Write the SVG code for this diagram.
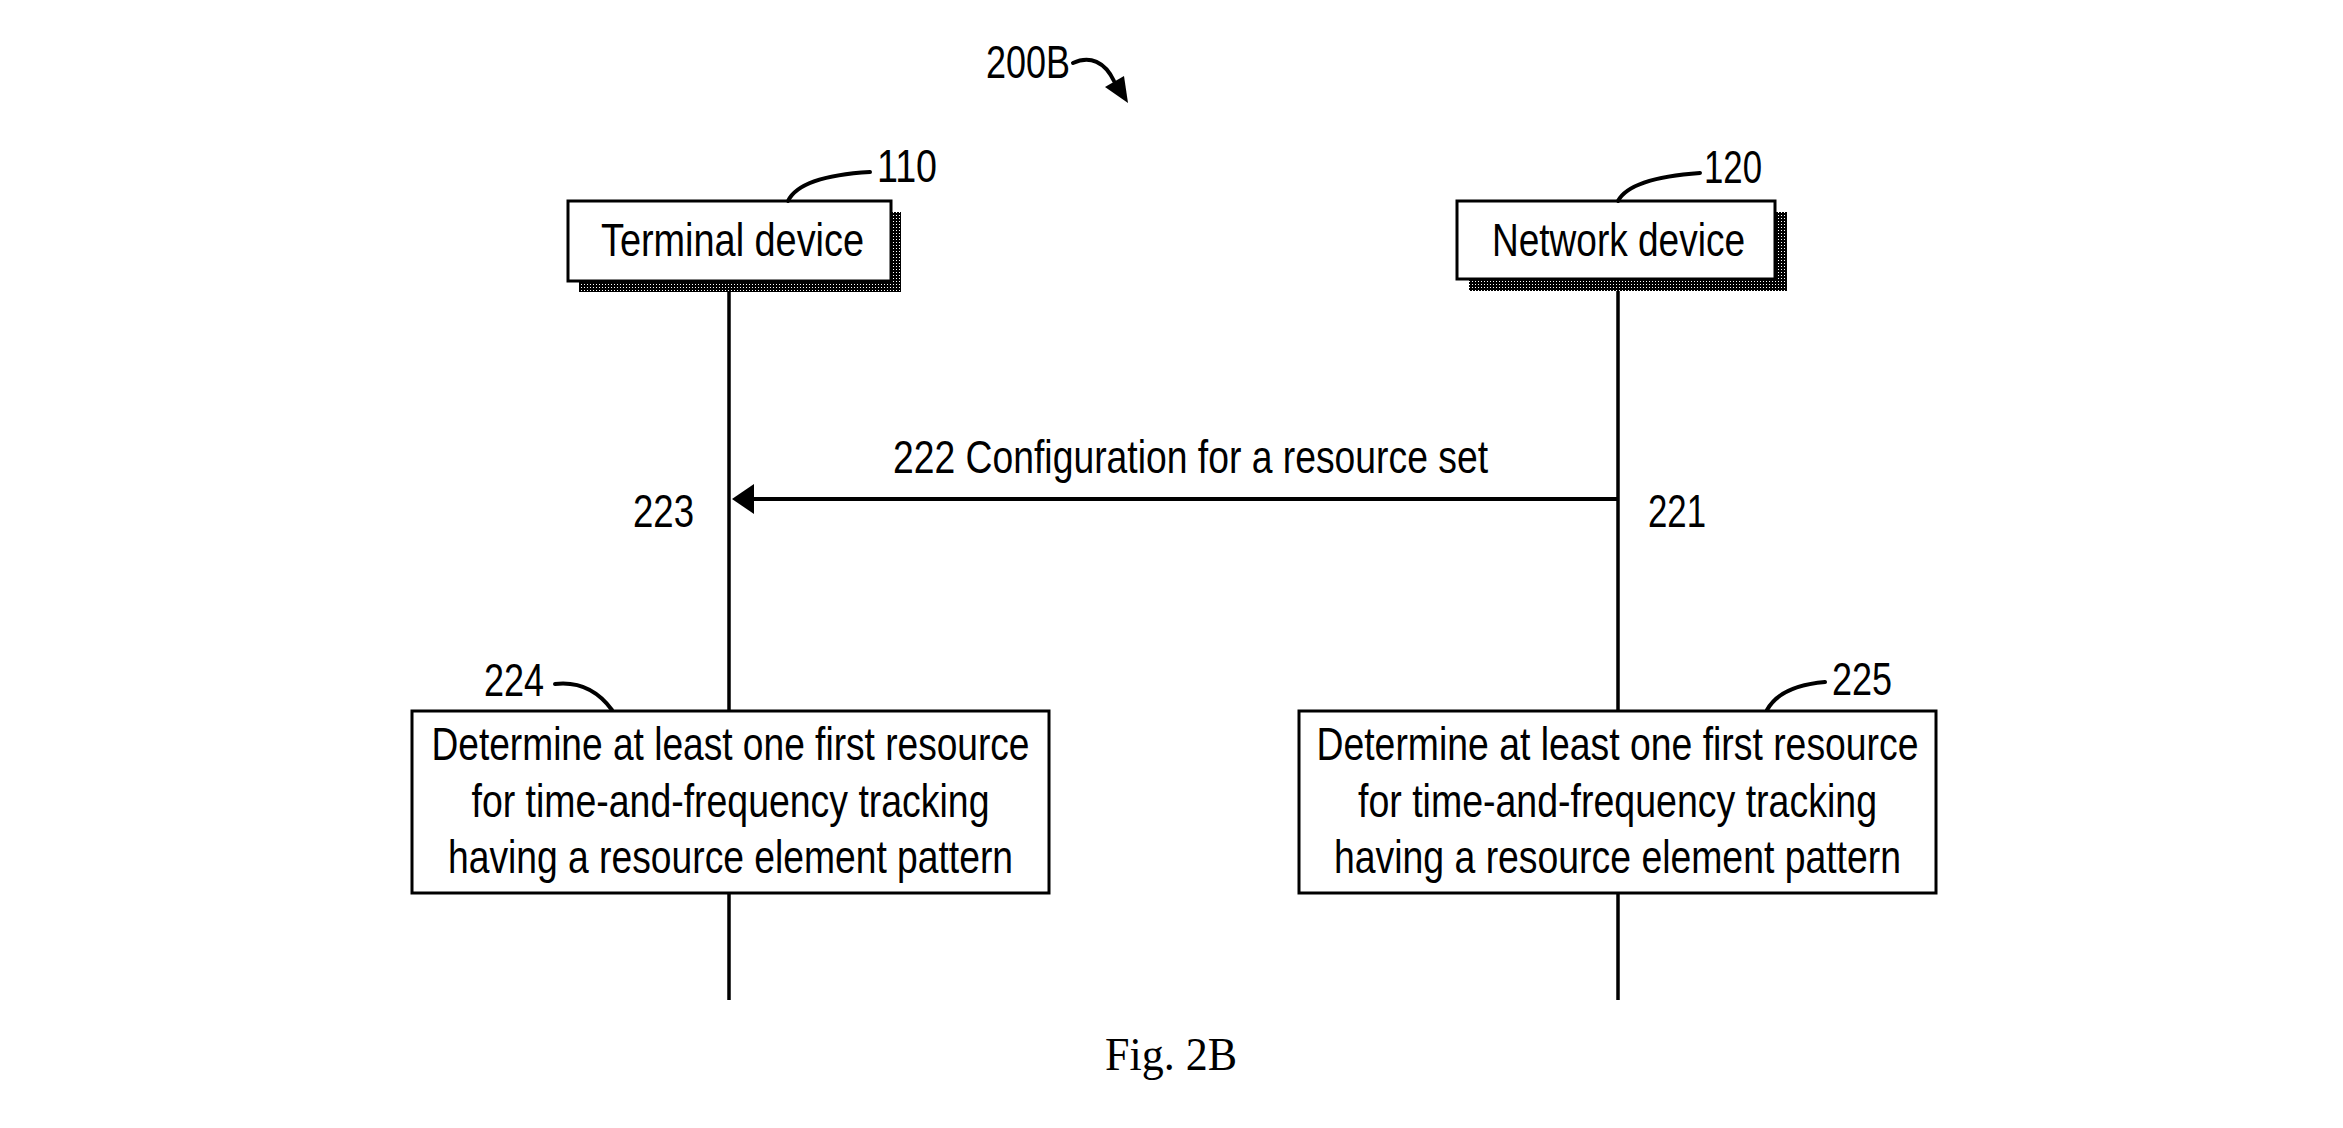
<svg xmlns="http://www.w3.org/2000/svg" width="2343" height="1128" viewBox="0 0 2343 1128">
  <style>
    .t { font-family: "Liberation Sans", Arial, sans-serif; font-size: 46px; fill: #000; }
    .cap { font-family: "Liberation Serif", "Times New Roman", serif; font-size: 46px; fill: #000; }
    .box { fill: #fff; stroke: #000; stroke-width: 3; }
    .life { stroke: #000; stroke-width: 3.5; fill: none; }
    .lead { stroke: #000; stroke-width: 4; fill: none; stroke-linecap: round; }
  </style>
  <defs>
    <pattern id="shade" width="3" height="3" patternUnits="userSpaceOnUse">
      <rect width="3" height="3" fill="#000"/>
      <rect x="2" y="2" width="1" height="1" fill="#fff"/>
    </pattern>
  </defs>
  <rect width="2343" height="1128" fill="#fff"/>

  <g id="label-200B">
    <text class="t" x="986" y="78" textLength="84" lengthAdjust="spacingAndGlyphs">200B</text>
    <path class="lead" d="M1073,63 C1090,55 1105,62 1114,81"/>
    <polygon points="1128,103 1105,87 1124,76" fill="#000"/>
  </g>

  <g id="connectors">
    <line class="life" x1="729" y1="281" x2="729" y2="1000"/>
    <line class="life" x1="1618" y1="279" x2="1618" y2="1000"/>
    <line x1="1618" y1="499" x2="754" y2="499" stroke="#000" stroke-width="4"/>
    <path d="M732,499 L754,484 L754,514 Z" fill="#000"/>
    <text class="t" x="893" y="473" textLength="595" lengthAdjust="spacingAndGlyphs">222 Configuration for a resource set</text>
    <text class="t" x="633" y="527" textLength="61" lengthAdjust="spacingAndGlyphs">223</text>
    <text class="t" x="1648" y="527" textLength="58" lengthAdjust="spacingAndGlyphs">221</text>
  </g>

  <g id="node-110">
    <rect x="579" y="212" width="322" height="80" fill="url(#shade)"/>
    <rect class="box" x="568" y="201" width="323" height="80"/>
    <text class="t" x="601" y="256" textLength="263" lengthAdjust="spacingAndGlyphs">Terminal device</text>
    <path class="lead" d="M788,201 Q800,176 870,172"/>
    <text class="t" x="877" y="182" textLength="60" lengthAdjust="spacingAndGlyphs">110</text>
  </g>

  <g id="node-120">
    <rect x="1469" y="212" width="318" height="79" fill="url(#shade)"/>
    <rect class="box" x="1457" y="201" width="318" height="78"/>
    <text class="t" x="1492" y="256" textLength="253" lengthAdjust="spacingAndGlyphs">Network device</text>
    <path class="lead" d="M1618,201 Q1630,178 1700,173"/>
    <text class="t" x="1704" y="183" textLength="58" lengthAdjust="spacingAndGlyphs">120</text>
  </g>

  <g id="node-224">
    <rect class="box" x="412" y="711" width="637" height="182"/>
    <text class="t" x="730.5" y="760" text-anchor="middle" textLength="598" lengthAdjust="spacingAndGlyphs">Determine at least one first resource</text>
    <text class="t" x="730.5" y="817" text-anchor="middle" textLength="518" lengthAdjust="spacingAndGlyphs">for time-and-frequency tracking</text>
    <text class="t" x="730.5" y="873" text-anchor="middle" textLength="565" lengthAdjust="spacingAndGlyphs">having a resource element pattern</text>
    <path class="lead" d="M555,684 Q590,680 612,710"/>
    <text class="t" x="484" y="696" textLength="60" lengthAdjust="spacingAndGlyphs">224</text>
  </g>

  <g id="node-225">
    <rect class="box" x="1299" y="711" width="637" height="182"/>
    <text class="t" x="1617.5" y="760" text-anchor="middle" textLength="602" lengthAdjust="spacingAndGlyphs">Determine at least one first resource</text>
    <text class="t" x="1617.5" y="817" text-anchor="middle" textLength="519" lengthAdjust="spacingAndGlyphs">for time-and-frequency tracking</text>
    <text class="t" x="1617.5" y="873" text-anchor="middle" textLength="567" lengthAdjust="spacingAndGlyphs">having a resource element pattern</text>
    <path class="lead" d="M1767,710 Q1780,686 1825,682"/>
    <text class="t" x="1832" y="695" textLength="60" lengthAdjust="spacingAndGlyphs">225</text>
  </g>

  <text class="cap" x="1105" y="1070" textLength="132" lengthAdjust="spacingAndGlyphs">Fig. 2B</text>
</svg>
